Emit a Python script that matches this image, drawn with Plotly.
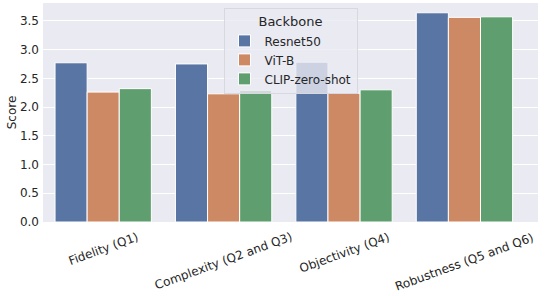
import plotly.graph_objects as go

categories = ["Fidelity (Q1)", "Complexity (Q2 and Q3)", "Objectivity (Q4)", "Robustness (Q5 and Q6)"]
series_names = ["Resnet50", "ViT-B", "CLIP-zero-shot"]
resnet50 = [2.77, 2.75, 2.78, 3.64]
vit_b = [2.26, 2.23, 2.24, 3.56]
clip_zero_shot = [2.32, 2.29, 2.30, 3.57]
colors = ["#5975a4", "#cc8963", "#5f9e6e"]
y_ticks = [0.0, 0.5, 1.0, 1.5, 2.0, 2.5, 3.0, 3.5]

FONT = "DejaVu Sans"
fig = go.Figure()
for name, vals, col in zip(series_names, [resnet50, vit_b, clip_zero_shot], colors):
    fig.add_trace(go.Bar(x=categories, y=vals, name=name,
                         marker=dict(color=col, line=dict(color="white", width=1))))

for c in categories:
    fig.add_annotation(x=c, xref="x", y=-0.025, yref="paper", text=c, showarrow=False,
                       textangle=-20, xanchor="center", yanchor="top",
                       font=dict(family=FONT, size=12, color="#262626"))

fig.add_annotation(x=-0.063, xref="paper", y=0.5, yref="paper", text="Score", showarrow=False,
                   textangle=-90, xanchor="center", yanchor="middle",
                   font=dict(family=FONT, size=12, color="#262626"))

fig.update_layout(
    width=548, height=296,
    margin=dict(l=43, r=10, t=3, b=74, autoexpand=False),
    paper_bgcolor="white", plot_bgcolor="#eaeaf2",
    font=dict(family=FONT, size=12, color="#262626"),
    barmode="group", bargap=0.2, bargroupgap=0,
    legend=dict(title=dict(text="Backbone", side="top center", font=dict(size=13)),
                x=0.5, xanchor="center", y=0.975, yanchor="top",
                bgcolor="rgba(234,234,242,0.8)", bordercolor="#d8d8e0", borderwidth=1,
                font=dict(size=12), itemwidth=30),
    xaxis=dict(showticklabels=False, showgrid=False, zeroline=False, ticks="", automargin=False),
    yaxis=dict(range=[0, 3.81], tickvals=y_ticks, tickformat=".1f", automargin=False,
               gridcolor="white", gridwidth=1, zeroline=False, ticks="",
               ticklabelstandoff=3, tickfont=dict(size=12)),
    showlegend=True,
)
fig.write_html("out.html", config={"displayModeBar": False},
               post_script="document.body.style.margin='0';document.body.style.overflow='hidden';")
